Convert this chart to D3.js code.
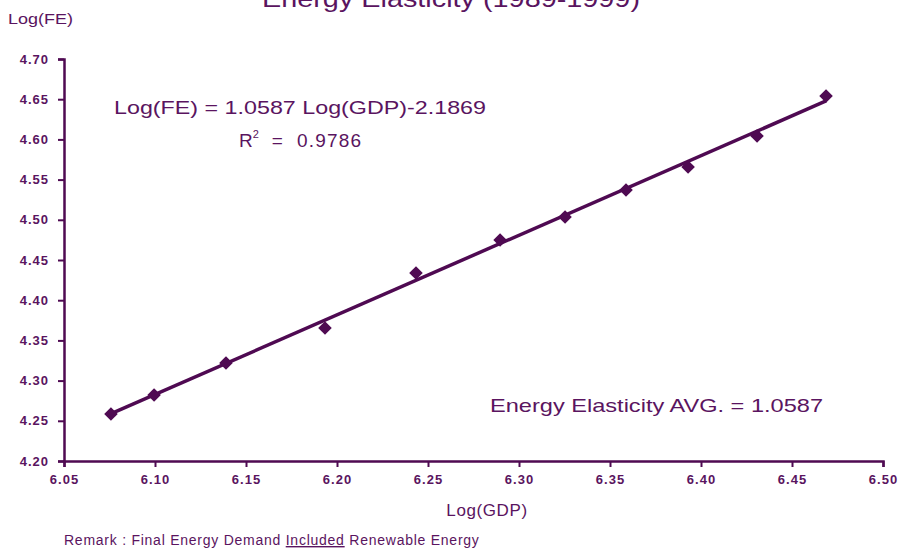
<!DOCTYPE html>
<html><head><meta charset="utf-8">
<script src="https://cdn.jsdelivr.net/npm/d3@7"></script>
<style>
body{margin:0;background:#fff;}
svg{display:block;font-family:"Liberation Sans",Arial,sans-serif;}
</style></head>
<body><svg id="c" width="900" height="548"></svg>
<script>
const logGDP = [6.0758, 6.0995, 6.1390, 6.1934, 6.2434, 6.2896, 6.3253, 6.3588, 6.3929, 6.4308, 6.4687];
const logFE  = [4.2585, 4.2821, 4.3219, 4.3654, 4.4338, 4.4749, 4.5035, 4.5371, 4.5657, 4.6042, 4.6540];
const trendX = [6.0740, 6.4687];
const trendY = [4.2570, 4.6478];
const xTicks = [6.05, 6.10, 6.15, 6.20, 6.25, 6.30, 6.35, 6.40, 6.45, 6.50];
const yTicks = [4.20, 4.25, 4.30, 4.35, 4.40, 4.45, 4.50, 4.55, 4.60, 4.65, 4.70];

const col = "#4f0a52";
const txt = "#5a1460";
const svg = d3.select("#c");
const x = d3.scaleLinear().domain([6.05, 6.50]).range([64, 883]);
const y = d3.scaleLinear().domain([4.20, 4.70]).range([461, 59]);

// axes
const xa = svg.append("g").attr("transform","translate(0,461)")
  .call(d3.axisBottom(x).tickValues(xTicks).tickFormat(d3.format(".2f")).tickSizeOuter(0).tickSize(6).tickPadding(8));
const ya = svg.append("g").attr("transform","translate(64,0)")
  .call(d3.axisLeft(y).tickValues(yTicks).tickFormat(d3.format(".2f")).tickSizeOuter(0).tickSize(6).tickPadding(9));
[xa, ya].forEach(g=>{
  g.select(".domain").attr("stroke", col).attr("stroke-width", 2.5);
  g.selectAll(".tick line").attr("stroke", col).attr("stroke-width", 2);
  g.selectAll(".tick text").attr("fill", txt).attr("font-size", 13).attr("font-weight","bold")
   .attr("letter-spacing", 1)
   .attr("font-family","'Liberation Sans',Arial,sans-serif");
});

// trend line
svg.append("line")
  .attr("x1", x(trendX[0])).attr("y1", y(trendY[0]))
  .attr("x2", x(trendX[1])).attr("y2", y(trendY[1]))
  .attr("stroke", col).attr("stroke-width", 3.5);

// markers
const sym = d3.symbol().type(d3.symbolSquare).size(92);
svg.append("g").selectAll("path").data(logGDP).join("path")
  .attr("d", sym)
  .attr("transform", (d,i)=>`translate(${x(d)},${y(logFE[i])}) rotate(45)`)
  .attr("fill", col);

// texts
function t(s, px, py, size, opts={}) {
  const e = svg.append("text").attr("x", px).attr("y", py).attr("font-size", size).attr("fill", txt).text(s);
  if (opts.anchor) e.attr("text-anchor", opts.anchor);
  if (opts.len) e.attr("textLength", opts.len).attr("lengthAdjust","spacingAndGlyphs");
  if (opts.ls) e.attr("letter-spacing", opts.ls);
  return e;
}
t("Energy Elasticity (1989-1999)", 262, 7, 24, {len: 378});
t("Log(FE)", 8, 24, 15, {len: 65});
t("Log(FE) = 1.0587 Log(GDP)-2.1869", 114, 114, 19, {len: 372});
const r = svg.append("text").attr("x", 239).attr("y", 147).attr("font-size", 19).attr("fill", txt)
  .attr("xml:space","preserve");
r.append("tspan").text("R");
r.append("tspan").attr("font-size", 11).attr("dy", -9).text("2");
r.append("tspan").attr("dy", 9).attr("letter-spacing", 1.2).text("  =  0.9786");
t("Energy Elasticity AVG. = 1.0587", 490, 412, 19, {len: 333});
t("Log(GDP)", 487, 516, 17, {anchor:"middle", ls: 0.6});
const rm = svg.append("text").attr("x", 64).attr("y", 545).attr("font-size", 14).attr("fill", txt)
  .attr("letter-spacing", 0.75);
rm.append("tspan").text("Remark : Final Energy Demand ");
rm.append("tspan").attr("text-decoration","underline").text("Included");
rm.append("tspan").text(" Renewable Energy");
</script></body></html>
